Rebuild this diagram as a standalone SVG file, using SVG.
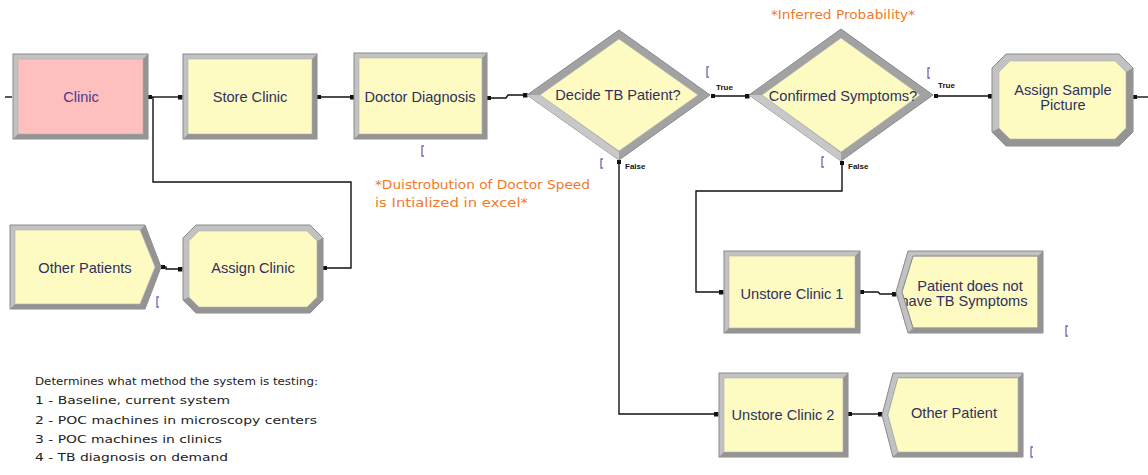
<svg xmlns="http://www.w3.org/2000/svg" width="1148" height="475" viewBox="0 0 1148 475">
  <style>
    .frame { fill: #c2c2c2; stroke: #8a8a8a; stroke-width: 1; }
    .shade { fill: #949494; }
    .lite { fill: #c8c8c8; }
    .body { fill: #fdfbc2; stroke: #b0b0b0; stroke-width: 0.6; }
    .pink { fill: #ffbfbf; stroke: #b0b0b0; stroke-width: 0.6; }
    .lbl { font-family: "Liberation Sans", Arial, sans-serif; font-size: 14.6px; fill: #30305e; text-anchor: middle; }
    .tf { font-family: "Liberation Sans", Arial, sans-serif; font-size: 8px; font-weight: bold; fill: #111; }
    .note { font-family: "DejaVu Sans", Tahoma, sans-serif; font-size: 12.5px; fill: #f07a2a; }
    .memo { font-family: "DejaVu Sans", Tahoma, sans-serif; font-size: 11px; fill: #222; }
    .wire { fill: none; stroke: #111; stroke-width: 1.4; }
    .anim { fill: none; stroke: #6a6ab8; stroke-width: 1.3; }
  </style>
  <defs>
    <marker id="exitPt" viewBox="0 0 4 4" refX="2" refY="2" markerWidth="4" markerHeight="4" markerUnits="userSpaceOnUse">
      <rect x="0" y="0" width="4" height="4" fill="#111"/>
    </marker>
    <marker id="entryPt" viewBox="0 0 5 5" refX="2.5" refY="2.5" markerWidth="5" markerHeight="5" markerUnits="userSpaceOnUse">
      <rect x="0" y="0" width="5" height="5" fill="#111"/>
    </marker>
  </defs>
  <rect width="1148" height="475" fill="#ffffff"/>

  <!-- connectors -->
  <g id="connectors">
    <path class="wire" d="M5 97 H12" stroke-width="2.5"/>
    <path class="wire" d="M150 97 H180" marker-start="url(#exitPt)" marker-end="url(#entryPt)"/>
    <path class="wire" d="M325 268 H351 V182 H153 V97" marker-start="url(#exitPt)"/>
    <path class="wire" d="M319 97 H352" marker-start="url(#exitPt)" marker-end="url(#entryPt)"/>
    <path class="wire" d="M489 98 H506 L508 95 H525" marker-start="url(#exitPt)" marker-end="url(#entryPt)"/>
    <path class="wire" d="M713 96 H747" marker-start="url(#exitPt)" marker-end="url(#entryPt)"/>
    <path class="wire" d="M619 162 V414 H716" marker-start="url(#exitPt)" marker-end="url(#entryPt)"/>
    <path class="wire" d="M936 96 H990" marker-start="url(#exitPt)" marker-end="url(#entryPt)"/>
    <path class="wire" d="M842 163 V191 H696 V292 H721" marker-start="url(#exitPt)" marker-end="url(#entryPt)"/>
    <path class="wire" d="M862 292 H878 L880 294 H894" marker-start="url(#exitPt)" marker-end="url(#entryPt)"/>
    <path class="wire" d="M850 414 H880" marker-start="url(#exitPt)" marker-end="url(#entryPt)"/>
    <path class="wire" d="M1135 97 H1148" marker-start="url(#exitPt)"/>
    <path class="wire" d="M163 267 H166 V269 H180" marker-start="url(#exitPt)" marker-end="url(#entryPt)"/>
  </g>

  <!-- Clinic -->
  <g id="clinic">
    <rect class="frame" x="13" y="54" width="135" height="85"/>
    <polygon class="shade" points="148,54 148,139 13,139 18,134 143,134 143,59"/>
    <rect class="pink" x="18" y="59" width="125" height="75"/>
    <text class="lbl" x="81" y="102" style="fill:#4a3a8c">Clinic</text>
  </g>

  <!-- Store Clinic -->
  <g id="store-clinic">
    <rect class="frame" x="183" y="54" width="134" height="85"/>
    <polygon class="shade" points="317,54 317,139 183,139 188,134 312,134 312,59"/>
    <rect class="body" x="188" y="59" width="124" height="75"/>
    <text class="lbl" x="250" y="102">Store Clinic</text>
  </g>

  <!-- Doctor Diagnosis -->
  <g id="doctor-diagnosis">
    <rect class="frame" x="354" y="53" width="133" height="86"/>
    <polygon class="shade" points="487,53 487,139 354,139 359,134 482,134 482,58"/>
    <rect class="body" x="359" y="58" width="123" height="76"/>
    <text class="lbl" x="420" y="102">Doctor Diagnosis</text>
  </g>

  <!-- Decide TB Patient? -->
  <g id="decide-tb">
    <polygon class="frame" points="527,95 619,30 710,95 619,160" style="fill:#a2a2a2"/>
    <polygon class="lite" points="527,95 619,160 619,152 540,95"/>
    <polygon class="body" points="540,95 619,39 698,95 619,151"/>
    <text class="lbl" x="618" y="100">Decide TB Patient?</text>
    <text class="tf" x="716" y="90">True</text>
    <text class="tf" x="625" y="169">False</text>
  </g>

  <!-- Confirmed Symptoms? -->
  <g id="confirmed-symptoms">
    <polygon class="frame" points="749,95 841,29 933,95 841,161" style="fill:#a2a2a2"/>
    <polygon class="lite" points="749,95 841,161 841,153 762,95"/>
    <polygon class="body" points="762,95 841,38 920,95 841,152"/>
    <text class="lbl" x="843" y="101">Confirmed Symptoms?</text>
    <text class="tf" x="938" y="88">True</text>
    <text class="tf" x="848" y="169">False</text>
  </g>

  <!-- Assign Sample Picture -->
  <g id="assign-sample-picture">
    <polygon class="frame" points="1006,54 1119,54 1133,68 1133,132 1119,146 1006,146 992,132 992,68"/>
    <polygon class="shade" points="992,132 1006,146 1119,146 1133,132 1126,128 1115,139 1010,139 999,128"/>
    <polygon class="shade" points="1133,68 1133,132 1126,128 1126,72"/>
    <polygon class="body" points="1010,61 1115,61 1126,72 1126,128 1115,139 1010,139 999,128 999,72"/>
    <text class="lbl" x="1063" y="95">Assign Sample</text>
    <text class="lbl" x="1063" y="110">Picture</text>
  </g>

  <!-- Other Patients -->
  <g id="other-patients">
    <polygon class="frame" points="10,225 145,225 161,267 145,309 10,309"/>
    <polygon class="shade" points="145,225 161,267 145,309 10,309 15,304 140,304 155,267 140,230"/>
    <polygon class="body" points="15,230 140,230 155,267 140,304 15,304"/>
    <text class="lbl" x="85" y="273">Other Patients</text>
  </g>

  <!-- Assign Clinic -->
  <g id="assign-clinic">
    <polygon class="frame" points="196,225 310,225 323,238 323,300 310,313 196,313 183,300 183,238"/>
    <polygon class="shade" points="183,300 196,313 310,313 323,300 317,297 307,307 199,307 189,297"/>
    <polygon class="shade" points="323,238 323,300 317,297 317,241"/>
    <polygon class="body" points="199,231 307,231 317,241 317,297 307,307 199,307 189,297 189,241"/>
    <text class="lbl" x="253" y="273">Assign Clinic</text>
  </g>

  <!-- Unstore Clinic 1 -->
  <g id="unstore-clinic-1">
    <rect class="frame" x="724" y="251" width="136" height="82"/>
    <polygon class="shade" points="860,251 860,333 724,333 729,328 855,328 855,256"/>
    <rect class="body" x="729" y="256" width="126" height="72"/>
    <text class="lbl" x="792" y="299">Unstore Clinic 1</text>
  </g>

  <!-- Patient does not have TB Symptoms (label runs under the left bevel) -->
  <g id="patient-no-symptoms">
    <polygon class="body" points="913,256 1038,256 1038,328 913,328 902,292"/>
    <text class="lbl" x="970" y="291">Patient does not</text>
    <text class="lbl" x="964" y="306">have TB Symptoms</text>
    <path class="frame" fill-rule="evenodd" d="M908,251 H1043 V333 H908 L896,292 Z M913,256 L902,292 L913,328 H1038 V256 Z"/>
    <polygon class="shade" points="1043,251 1043,333 908,333 913,328 1038,328 1038,256"/>
  </g>

  <!-- Unstore Clinic 2 -->
  <g id="unstore-clinic-2">
    <rect class="frame" x="719" y="373" width="129" height="84"/>
    <polygon class="shade" points="848,373 848,457 719,457 724,452 843,452 843,378"/>
    <rect class="body" x="724" y="378" width="119" height="74"/>
    <text class="lbl" x="783" y="420">Unstore Clinic 2</text>
  </g>

  <!-- Other Patient -->
  <g id="other-patient">
    <path class="frame" fill-rule="evenodd" d="M893,373 H1023 V457 H893 L882,415 Z M898,378 L888,415 L898,452 H1018 V378 Z"/>
    <polygon class="shade" points="1023,373 1023,457 893,457 898,452 1018,452 1018,378"/>
    <polygon class="body" points="898,378 1018,378 1018,452 898,452 888,415"/>
    <text class="lbl" x="954" y="418">Other Patient</text>
  </g>

  <!-- animation queue markers -->
  <g id="queue-marks">
    <path class="anim" d="M159,297 H157 V307 H159"/>
    <path class="anim" d="M424,146 H422 V156 H424"/>
    <path class="anim" d="M603,159 H601 V168 H603"/>
    <path class="anim" d="M709,67 H707 V77 H709"/>
    <path class="anim" d="M824,157 H822 V167 H824"/>
    <path class="anim" d="M930,68 H928 V78 H930"/>
    <path class="anim" d="M1068,326 H1066 V336 H1068"/>
    <path class="anim" d="M1033,447 H1031 V457 H1033"/>
  </g>

  <!-- annotations -->
  <g id="notes">
    <text class="note" x="375" y="189" textLength="215" lengthAdjust="spacingAndGlyphs">*Duistrobution of Doctor Speed</text>
    <text class="note" x="375" y="207" textLength="153" lengthAdjust="spacingAndGlyphs">is Intialized in excel*</text>
    <text class="note" x="771" y="19" textLength="144" lengthAdjust="spacingAndGlyphs">*Inferred Probability*</text>
  </g>

  <g id="method-memo">
    <text class="memo" x="35" y="385" textLength="283" lengthAdjust="spacingAndGlyphs">Determines what method the system is testing:</text>
    <text class="memo" x="35" y="404" textLength="195" lengthAdjust="spacingAndGlyphs">1 - Baseline, current system</text>
    <text class="memo" x="35" y="424" textLength="282" lengthAdjust="spacingAndGlyphs">2 - POC machines in microscopy centers</text>
    <text class="memo" x="35" y="443" textLength="187" lengthAdjust="spacingAndGlyphs">3 - POC machines in clinics</text>
    <text class="memo" x="35" y="461" textLength="193" lengthAdjust="spacingAndGlyphs">4 - TB diagnosis on demand</text>
  </g>
</svg>
